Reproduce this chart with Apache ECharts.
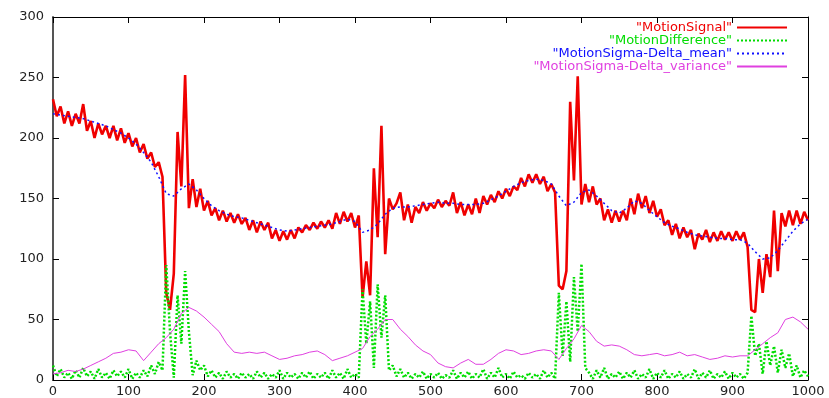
<!DOCTYPE html>
<html>
<head>
<meta charset="utf-8">
<script src="https://cdn.jsdelivr.net/npm/echarts@6/dist/echarts.min.js"></script>
<style>
  html, body { margin: 0; padding: 0; background: #fff; }
  #chart { width: 829px; height: 398px; }
</style>
</head>
<body>
<div id="chart"></div>
<script>
// Frame indices 0..1000; noisy series sampled every 5 frames, smooth ones every 10.
const FINE_STEP = 5;
const COARSE_STEP = 10;

const xTicks = [0, 100, 200, 300, 400, 500, 600, 700, 800, 900, 1000];
const yTicks = [0, 50, 100, 150, 200, 250, 300];

const seriesNames = [
  '"MotionSignal"',
  '"MotionDifference"',
  '"MotionSigma-Delta_mean"',
  '"MotionSigma-Delta_variance"'
];

// Raw motion signal (every 5 frames)
const motionSignal = [
  232,218,226,212,222,210,220,212,228,206,
  214,200,212,203,210,200,210,198,208,196,
  204,193,200,188,195,183,188,176,180,168,
  72,58,88,205,160,252,142,166,143,158,
  140,148,136,142,132,140,131,138,130,137,
  129,134,124,132,122,131,124,130,117,124,
  115,123,116,124,117,126,122,128,124,130,
  125,131,126,132,125,138,129,139,131,138,
  126,136,68,98,70,175,118,210,104,150,
  141,146,155,132,145,130,143,138,147,140,
  146,142,149,143,148,144,155,138,147,136,
  145,137,150,138,152,145,153,147,156,150,
  158,152,160,157,167,160,170,163,170,162,
  168,156,162,155,78,75,90,230,165,251,
  145,162,147,160,145,150,132,141,130,140,
  131,140,132,150,137,154,142,152,138,148,
  135,141,128,132,120,129,117,126,118,124,
  108,121,116,124,114,122,115,123,116,122,
  115,123,116,122,110,58,56,100,72,104,
  85,140,90,138,127,140,128,140,129,139,
  132
];

// Frame-to-frame difference (every 5 frames)
const motionDifference = [
  12,3,9,2,6,1,8,2,10,3,
  7,1,9,2,6,1,8,3,7,2,
  9,1,6,2,8,3,12,5,15,8,
  95,40,2,70,30,90,40,4,16,8,
  12,3,8,2,6,1,7,2,5,1,
  6,2,5,1,7,2,6,1,5,2,
  8,1,6,2,5,1,6,2,7,1,
  5,2,6,1,8,2,6,1,9,2,
  5,2,75,30,65,10,79,35,70,8,
  12,3,9,2,6,1,5,2,7,1,
  5,2,6,1,4,2,8,1,6,2,
  7,1,5,2,9,1,6,2,10,2,
  5,1,7,2,4,1,6,2,5,1,
  8,2,6,1,72,20,65,15,85,40,
  96,10,6,1,8,2,10,1,5,2,
  7,1,6,2,8,1,5,2,9,1,
  6,2,8,1,5,2,7,1,5,2,
  9,1,6,2,8,1,5,2,7,1,
  6,2,5,1,6,53,20,30,5,32,
  12,28,6,25,10,22,3,12,2,8,
  3
];

// Sigma-delta mean estimate (every 10 frames)
const sigmaDeltaMean = [
  220,219,218,217,216,214,212,210,207,204,
  200,195,188,180,168,154,152,158,162,157,
  150,144,140,137,135,134,132,130,128,126,
  124,123,124,125,126,127,128,129,131,133,
  131,122,124,129,137,142,143,143,144,145,
  146,147,146,146,145,145,145,146,149,152,
  156,160,163,165,166,165,162,152,144,147,
  155,157,152,146,140,138,142,148,146,140,
  135,130,127,125,122,120,119,118,117,117,
  116,116,113,106,100,101,107,115,123,129,
  133
];

// Sigma-delta variance estimate (every 10 frames)
const sigmaDeltaVariance = [
  5,6,8,7,9,12,15,18,22,23,
  25,24,16,23,30,35,42,55,60,57,
  52,46,40,30,23,22,23,22,23,20,
  17,18,20,21,23,24,21,16,18,20,
  23,26,36,42,50,50,42,36,29,24,
  21,14,11,10,14,17,13,13,17,22,
  25,24,21,22,24,25,24,17,26,34,
  45,40,32,28,29,28,25,21,20,21,
  22,20,21,23,20,21,19,17,18,20,
  19,20,20,25,30,35,39,50,52,48,
  42
];

function pairs(values, step) {
  return values.map((v, i) => [i * step, v]);
}

const FONT = 'DejaVu Sans';
const TEXT_COLOR = '#222';
const colors = ['#f00000', '#00dd00', '#1010ff', '#e040e0'];

const chart = echarts.init(document.getElementById('chart'), null, { renderer: 'canvas' });

const baseX = {
  type: 'value',
  min: xTicks[0],
  max: xTicks[xTicks.length - 1],
  interval: xTicks[1] - xTicks[0],
  splitLine: { show: false },
  axisLine: { show: true, onZero: false, lineStyle: { color: '#000', width: 1 } },
  axisTick: { show: true, inside: true, length: 6, lineStyle: { color: '#000' } }
};
const baseY = {
  type: 'value',
  min: yTicks[0],
  max: yTicks[yTicks.length - 1],
  interval: yTicks[1] - yTicks[0],
  splitLine: { show: false },
  axisLine: { show: true, onZero: false, lineStyle: { color: '#000', width: 1 } },
  axisTick: { show: true, inside: true, length: 6, lineStyle: { color: '#000' } }
};

const plainNumber = v => String(v);

chart.setOption({
  animation: false,
  backgroundColor: '#fff',
  grid: { left: 53, right: 21, top: 17, bottom: 17, containLabel: false },
  xAxis: [
    Object.assign({}, baseX, {
      position: 'bottom',
      axisLabel: { show: true, margin: 5, color: TEXT_COLOR, fontFamily: FONT, fontSize: 13, formatter: plainNumber }
    }),
    Object.assign({}, baseX, { position: 'top', axisLabel: { show: false } })
  ],
  yAxis: [
    Object.assign({}, baseY, {
      position: 'left',
      axisLine: { show: true, onZero: false, lineStyle: { color: '#555', width: 2 } },
      axisLabel: { show: true, margin: 9, color: TEXT_COLOR, fontFamily: FONT, fontSize: 13, formatter: plainNumber }
    }),
    Object.assign({}, baseY, { position: 'right', axisLabel: { show: false } })
  ],
  legend: {
    orient: 'vertical',
    right: 41,
    top: 21,
    align: 'right',
    itemWidth: 50,
    itemHeight: 8,
    itemGap: 0,
    padding: 0,
    selectedMode: false,
    itemStyle: { opacity: 0, borderWidth: 0 },
    textStyle: { fontFamily: FONT, fontSize: 13, lineHeight: 12 },
    data: seriesNames.map((name, i) => ({ name: name, textStyle: { color: colors[i] } }))
  },
  series: [
    {
      name: seriesNames[0],
      type: 'line',
      symbol: 'none',
      data: pairs(motionSignal, FINE_STEP),
      lineStyle: { color: colors[0], width: 2.6 },
      itemStyle: { color: colors[0] },
      z: 2
    },
    {
      name: seriesNames[1],
      type: 'line',
      symbol: 'none',
      data: pairs(motionDifference, FINE_STEP),
      lineStyle: { color: colors[1], width: 2.5, type: [2, 2] },
      itemStyle: { color: colors[1] },
      z: 3
    },
    {
      name: seriesNames[2],
      type: 'line',
      symbol: 'none',
      data: pairs(sigmaDeltaMean, COARSE_STEP),
      lineStyle: { color: colors[2], width: 1.5, type: [2, 3] },
      itemStyle: { color: colors[2] },
      z: 4
    },
    {
      name: seriesNames[3],
      type: 'line',
      symbol: 'none',
      data: pairs(sigmaDeltaVariance, COARSE_STEP),
      lineStyle: { color: colors[3], width: 1 },
      itemStyle: { color: colors[3] },
      z: 5
    }
  ]
});
</script>
</body>
</html>
